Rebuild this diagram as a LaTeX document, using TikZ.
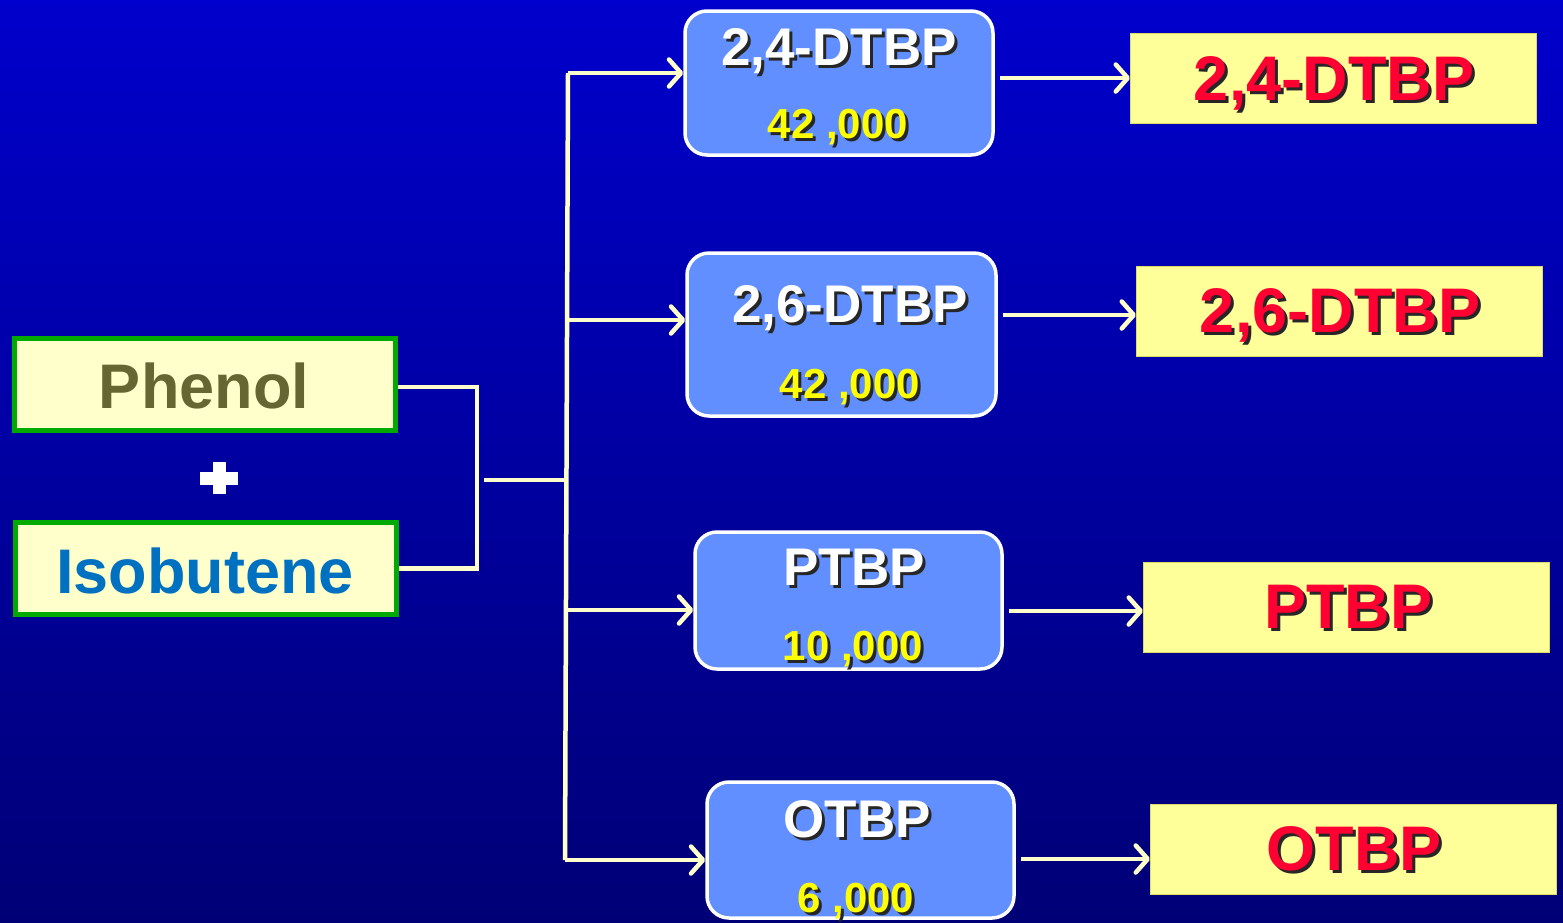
\documentclass[tikz,border=0pt]{standalone}
\usepackage{fontspec}
\setmainfont{Liberation Sans}
\usetikzlibrary{arrows.meta}
\definecolor{bgtop}{RGB}{0,0,204}
\definecolor{bgbot}{RGB}{0,0,118}
\definecolor{cream}{RGB}{255,255,204}
\definecolor{boxblue}{RGB}{97,143,255}
\definecolor{ygreen}{RGB}{0,170,0}
\definecolor{olive}{RGB}{102,102,51}
\definecolor{isoblue}{RGB}{0,112,192}
\definecolor{yfill}{RGB}{255,255,153}
\definecolor{yedge}{RGB}{220,220,100}
\definecolor{redtxt}{RGB}{255,0,51}
\definecolor{numyel}{RGB}{255,255,0}
\newcommand\shadowed[2]{\rlap{\kern3pt\raisebox{-3pt}{\textcolor{black!85}{#2}}}\textcolor{#1}{#2}}
\tikzset{
  reactant/.style={draw=ygreen, line width=5pt, fill=cream, minimum width=381pt, minimum height=92pt, inner sep=0pt},
  stagebox/.style={draw=white, line width=3.5pt, fill=boxblue, rounded corners=22pt, inner sep=0pt},
  prodbox/.style={draw=yedge, line width=1pt, fill=yfill, minimum width=406pt, minimum height=90pt, inner sep=0pt},
  txt/.style={anchor=base, inner sep=0pt, font=\bfseries},
  link/.style={draw=cream, line width=4.5pt},
  arr/.style={link, -{Straight Barb[length=12pt, width=27pt, round]}},
}
\begin{document}
\begin{tikzpicture}[x=1pt, y=-1pt]
\shade[top color=bgtop, bottom color=bgbot] (0,0) rectangle (1563,922);
\useasboundingbox (0,0) rectangle (1563,922);

% reactants
\node[reactant] (ph) at (205,384.5) {};
\node[reactant] (iso) at (206,568.5) {};
\node[txt, font=\bfseries\fontsize{63}{70}\selectfont, text=olive] (pht) at (204,408) {Phenol};
\node[txt, font=\bfseries\fontsize{63}{70}\selectfont, text=isoblue] (isot) at (205,593) {Isobutene};
\fill[white] (200,472) rectangle (238,485);
\fill[white] (212.5,462) rectangle (225.5,494);

% stage boxes
\node[stagebox, minimum width=308pt, minimum height=144pt] (b1) at (839,83) {};
\node[stagebox, minimum width=309pt, minimum height=163pt] (b2) at (841.5,334.5) {};
\node[stagebox, minimum width=307pt, minimum height=137pt] (b3) at (848.5,600.5) {};
\node[stagebox, minimum width=307pt, minimum height=136pt] (b4) at (860.5,850) {};

\begin{scope}[every node/.append style={txt, font=\bfseries\fontsize{53}{60}\selectfont}]
\node (b1t) at (839,65) {\shadowed{white}{2,4-DTBP}};
\node (b2t) at (850,322) {\shadowed{white}{2,6-DTBP}};
\node (b3t) at (854,585) {\shadowed{white}{PTBP}};
\node (b4t) at (857,837) {\shadowed{white}{OTBP}};
\end{scope}
\begin{scope}[every node/.append style={txt, font=\bfseries\fontsize{42}{48}\selectfont}]
\node (b1n) at (838,138) {\shadowed{numyel}{42 ,000}};
\node (b2n) at (850,398) {\shadowed{numyel}{42 ,000}};
\node (b3n) at (853,660) {\shadowed{numyel}{10 ,000}};
\node (b4n) at (856,912) {\shadowed{numyel}{6 ,000}};
\end{scope}

% product boxes
\node[prodbox] (y1) at (1333.5,78.5) {};
\node[prodbox] (y2) at (1339.5,311) {};
\node[prodbox] (y3) at (1346.5,607) {};
\node[prodbox] (y4) at (1353.5,849) {};
\begin{scope}[every node/.append style={txt, font=\bfseries\fontsize{63}{70}\selectfont}]
\node (y1t) at (1334,100) {\shadowed{redtxt}{2,4-DTBP}};
\node (y2t) at (1340,332) {\shadowed{redtxt}{2,6-DTBP}};
\node (y3t) at (1348,628) {\shadowed{redtxt}{PTBP}};
\node (y4t) at (1354,870) {\shadowed{redtxt}{OTBP}};
\end{scope}

% bracket joining reactants
\coordinate (jp) at (477,387);
\draw[link] (ph.east |- jp) -- (jp) -- (jp |- iso.east) -- (iso.east);
\coordinate (m0) at (484,480);
\coordinate (m1) at (564,480);
\draw[link] (m0) -- (m1);

% trunk
\coordinate (t1) at (568,73);
\coordinate (t2) at (567,320);
\coordinate (t3) at (566,610);
\coordinate (t4) at (565,860);
\draw[link] (t1) -- (t4);
\draw[arr] (t1) -- (t1 -| b1.west);
\draw[arr] (t2) -- (t2 -| b2.west);
\draw[arr] (t3) -- (t3 -| b3.west);
\draw[arr] (t4) -- (t4 -| b4.west);

% outputs
\coordinate (o1) at (1000,78);
\coordinate (o2) at (1003,315);
\coordinate (o3) at (1009,611);
\coordinate (o4) at (1021,859);
\draw[arr] (o1) -- (o1 -| y1.west);
\draw[arr] (o2) -- (o2 -| y2.west);
\draw[arr] (o3) -- (o3 -| y3.west);
\draw[arr] (o4) -- (o4 -| y4.west);
\end{tikzpicture}
\end{document}
